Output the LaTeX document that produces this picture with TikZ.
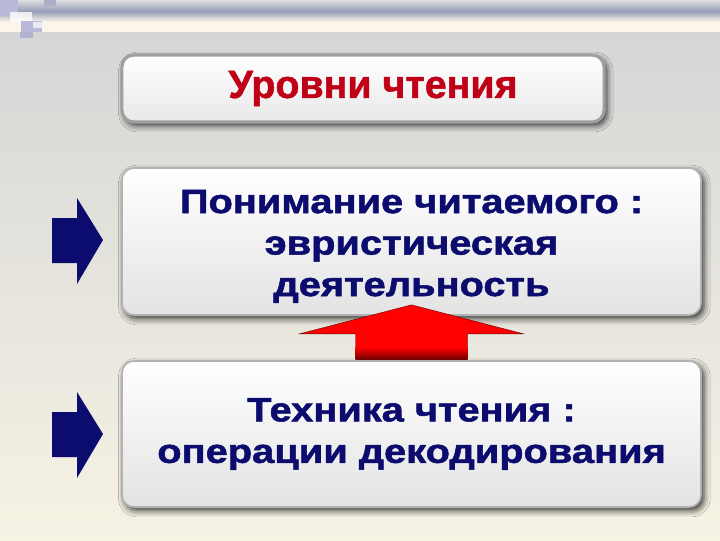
\documentclass[tikz,border=0pt]{standalone}
\usepackage{fontspec}
\setmainfont{Liberation Sans}
\newfontfamily\widefont{Liberation Sans}[FakeStretch=1.18, FakeBold=1.6]
\newfontfamily\headfont{Liberation Sans}[FakeBold=1.2]
\usetikzlibrary{positioning,calc,shadows.blur}

\definecolor{bgtop}{RGB}{214,214,214}
\definecolor{bgbottom}{RGB}{246,242,228}
\definecolor{bandblue}{RGB}{150,158,184}
\definecolor{bandcream}{RGB}{252,246,234}
\definecolor{lavender}{RGB}{184,184,216}
\definecolor{textnavy}{RGB}{12,12,110}
\definecolor{titlered}{RGB}{192,0,22}

\begin{document}
\begin{tikzpicture}[x=0.025cm, y=-0.025cm,
    levelbox/.style={rounded corners=0.3cm, draw=gray!60, line width=1.2pt,
        top color=white, bottom color=gray!22, align=center,
        font=\widefont\bfseries\fontsize{24}{29.5}\selectfont, text=textnavy,
        blur shadow={shadow xshift=2pt, shadow yshift=-2.5pt,
            shadow blur radius=4.5pt, shadow opacity=80}},
    titlebox/.style={levelbox, draw=gray!75, line width=2.2pt, text=titlered,
        bottom color=gray!18, font=\headfont\bfseries\fontsize{28}{30}\selectfont},
    bluearrow/.style={fill=textnavy}]

    % background and top band
    \fill[top color=bgtop, bottom color=bgbottom] (0,32) rectangle (720,540);
    \fill[top color=gray!25!white, bottom color=bandblue] (0,0) rectangle (720,11);
    \fill[top color=bandblue, bottom color=bandcream] (0,11) rectangle (720,22);
    \fill[bandcream] (0,22) rectangle (720,32);
    \useasboundingbox (0,0) rectangle (720,540);

    % little squares in the corner
    \fill[lavender] (0,0) rectangle (18,16);
    \fill[lavender!80!gray] (44,0) rectangle (56,6);
    \fill[white, opacity=0.8] (10,12) rectangle (32,22);
    \fill[lavender] (21,21) rectangle (42,32);
    \fill[white, opacity=0.7] (33,22) rectangle (42,28);
    \fill[lavender!90!gray] (20,32) rectangle (33,38);

    \node (title) [titlebox, minimum width=12.05cm, minimum height=1.675cm] at (363,88.5)
        {\hspace*{0.5cm}Уровни чтения};
    \node (understanding) [levelbox, minimum width=14.475cm, minimum height=3.675cm] at (411.5,241.5)
        {\rule{0pt}{0.82cm}Понимание читаемого :\\ эвристическая\\ деятельность};
    \node (technique) [levelbox, minimum width=14.475cm, minimum height=3.65cm] at (411.5,434)
        {Техника чтения :\\ операции декодирования};

    % red arrow from technique up to understanding
    \coordinate (tip) at ($(understanding.south)+(0,-11)$);
    \coordinate (foot) at ($(technique.north)+(0,-1)$);
    \fill[red, draw=red!40!black, line width=0.3pt] (tip) -- ++(112,29) -- ++(-56,0) |- (foot)
        -- ++(-56,0) |- ($(tip)+(-56,29)$) -- ++(-56,0) -- cycle;
    \shade[top color=red, bottom color=red!45!black] ($(foot)+(-56,-12)$) rectangle ($(foot)+(56,0)$);

    % blue arrows at the left
    \foreach \cy in {240,434}
        \fill[bluearrow] (52,\cy-22) -- (77,\cy-22) -- (77,\cy-42) -- (103,\cy)
            -- (77,\cy+44) -- (77,\cy+23) -- (52,\cy+23) -- cycle;
\end{tikzpicture}
\end{document}
